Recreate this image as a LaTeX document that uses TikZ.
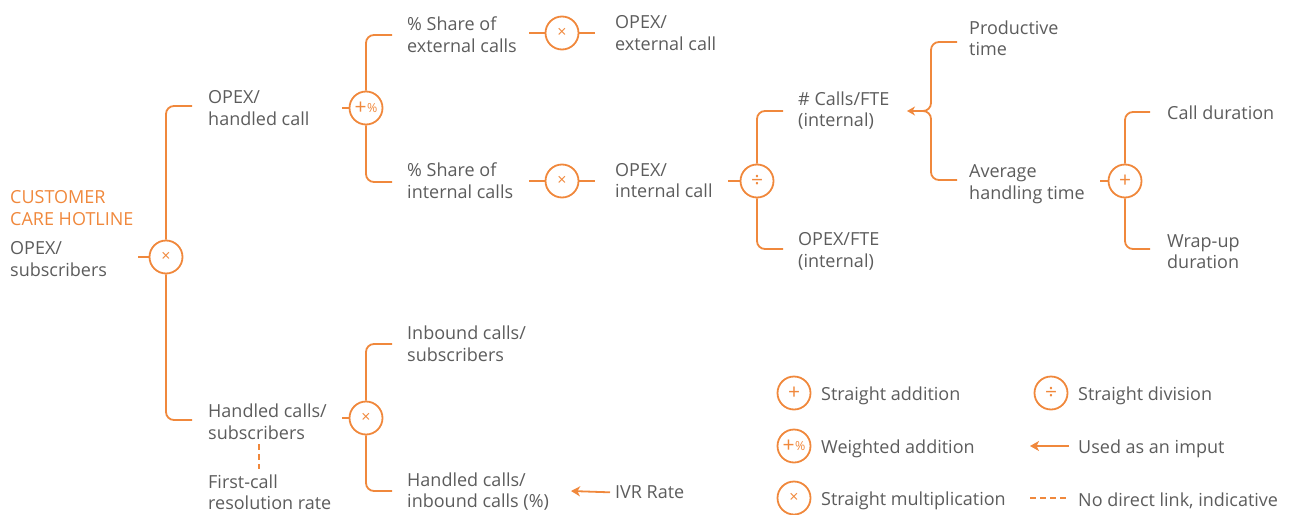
\documentclass[tikz,border=0pt]{standalone}
\usepackage{fontspec}
\setmainfont{Open Sans}
\usetikzlibrary{arrows.meta}
\definecolor{org}{HTML}{F0883C}
\definecolor{txt}{HTML}{5C5C5C}
\newcommand{\symx}{{\fontsize{16}{16}\selectfont ×}}
\newcommand{\symp}{{\fontsize{21}{21}\selectfont +}}
\newcommand{\symd}{{\fontsize{21}{21}\selectfont ÷}}
\newcommand{\sympp}{{\fontsize{21}{21}\selectfont +\kern0.5pt\raisebox{2pt}{\fontsize{12.5}{12.5}\selectfont\%}}}
\begin{document}
\begin{tikzpicture}[x=1pt,y=-1pt,
  line/.style={draw=org,line width=1.8pt},
  brk/.style={line,rounded corners=8pt},
  arr/.style={line,-{Stealth[length=9pt,width=10pt,inset=2.5pt]}},
  dsh/.style={line,dash pattern=on 6pt off 4pt},
  op/.style={circle,draw=org,line width=1.8pt,minimum size=33pt,inner sep=0pt,text=org},
  lbl/.style={anchor=west,align=left,text=txt,inner sep=0pt,yshift=-1.5pt,font=\fontsize{18}{21.5}\selectfont},
]
\useasboundingbox (0,0) rectangle (1290,514);

% operators
\node[op] (r0) at (166,257) {\symx};
\node[op] (w1) at (366,108) {\sympp};
\node[op] (m1) at (562,33) {\symx};
\node[op] (m2) at (562,181) {\symx};
\node[op] (d1) at (757,181) {\symd};
\node[op] (a1) at (1125,181) {\symp};
\node[op] (m3) at (366,418) {\symx};

% labels
\node[lbl,text=org] (root) at (10,206.5) {CUSTOMER\\CARE HOTLINE};
\node[lbl] (rootv) at (10,257.5) {OPEX/\\subscribers};
\node[lbl] (t1) at (208,106.5) {OPEX/\\handled call};
\node[lbl] (t2) at (208,420) {Handled calls/\\subscribers};
\node[lbl] (t3) at (407,33) {\% Share of\\external calls};
\node[lbl] (t4) at (407,179) {\% Share of\\internal calls};
\node[lbl] (t5) at (615,31.5) {OPEX/\\external call};
\node[lbl] (t6) at (615,179) {OPEX/\\internal call};
\node[lbl] (t7) at (798,109) {\# Calls/FTE\\(internal)};
\node[lbl] (t8) at (798,250) {OPEX/FTE\\(internal)};
\node[lbl] (t9) at (969,36.5) {Productive\\time};
\node[lbl] (t10) at (969,182.5) {Average\\handling time};
\node[lbl] (t11) at (1167,111) {Call duration};
\node[lbl] (t12) at (1167,250) {Wrap-up\\duration};
\node[lbl] (t13) at (407,342) {Inbound calls/\\subscribers};
\node[lbl] (t14) at (407,490) {Handled calls/\\inbound calls (\%)};
\node[lbl] (t15) at (615,491) {IVR Rate};
\node[lbl] (t16) at (208,490.5) {First-call\\resolution rate};

% coordinates for connector ends
\coordinate (r0in) at (138,257);
\coordinate (r0t) at (192,106);
\coordinate (r0b) at (192,420);
\coordinate (w1in) at (342,108);
\coordinate (w1t) at (392,35);
\coordinate (w1b) at (392,182);
\coordinate (m1l) at (529,33);
\coordinate (m1r) at (595,33);
\coordinate (m2l) at (529,181);
\coordinate (m2r) at (595,181);
\coordinate (d1in) at (728,181);
\coordinate (d1t) at (783,111);
\coordinate (d1b) at (783,249);
\coordinate (a1in) at (1100,181);
\coordinate (a1t) at (1150,112);
\coordinate (a1b) at (1150,249);
\coordinate (m3in) at (342,418);
\coordinate (m3t) at (392,344);
\coordinate (m3b) at (392,491);
\coordinate (pt) at (957,42);
\coordinate (pb) at (957,180);
\coordinate (pm) at (921,111);
\coordinate (ptip) at (907,111);
\coordinate (ivrtip) at (571,491);
\coordinate (fc1) at (259,444);
\coordinate (fc2) at (259,469);

% connectors
\draw[line] (r0in) -- (r0.west);
\draw[brk] (r0.north) |- (r0t);
\draw[brk] (r0.south) |- (r0b);
\draw[line] (w1in) -- (w1.west);
\draw[brk] (w1.north) |- (w1t);
\draw[brk] (w1.south) |- (w1b);
\draw[line] (m1l) -- (m1.west);
\draw[line] (m1.east) -- (m1r);
\draw[line] (m2l) -- (m2.west);
\draw[line] (m2.east) -- (m2r);
\draw[line] (d1in) -- (d1.west);
\draw[brk] (d1.north) |- (d1t);
\draw[brk] (d1.south) |- (d1b);
\draw[line] (a1in) -- (a1.west);
\draw[brk] (a1.north) |- (a1t);
\draw[brk] (a1.south) |- (a1b);
\draw[line] (m3in) -- (m3.west);
\draw[brk] (m3.north) |- (m3t);
\draw[brk] (m3.south) |- (m3b);
\draw[brk] (pt) -| (931,111) -- (pm);
\draw[brk] (pb) -| (931,111) -- (pm);
\draw[line,-{Stealth[length=8pt,width=9pt,inset=2.5pt]}] (pm) -- (ptip);
\draw[arr,shorten <=5pt] (t15.west) -- (ivrtip);
\draw[dsh] (fc1) -- (fc2);

% legend
\node[op] (L1) at (794,393) {\symp};
\node[op] (L2) at (794,446) {\sympp};
\node[op] (L3) at (794,498) {\symx};
\node[op] (L4) at (1051,393) {\symd};
\node[lbl] (lt1) at (821,394.5) {Straight addition};
\node[lbl] (lt2) at (821,447.5) {Weighted addition};
\node[lbl] (lt3) at (821,499.5) {Straight multiplication};
\node[lbl] (lt4) at (1078,394.5) {Straight division};
\node[lbl] (lt5) at (1078,447.5) {Used as an imput};
\node[lbl] (lt6) at (1078,499.5) {No direct link, indicative};
\coordinate (la1) at (1069,446);
\coordinate (la2) at (1030,446);
\coordinate (ld1) at (1030,498);
\coordinate (ld2) at (1069,498);
\draw[arr] (la1) -- (la2);
\draw[dsh] (ld1) -- (ld2);
\end{tikzpicture}
\end{document}
